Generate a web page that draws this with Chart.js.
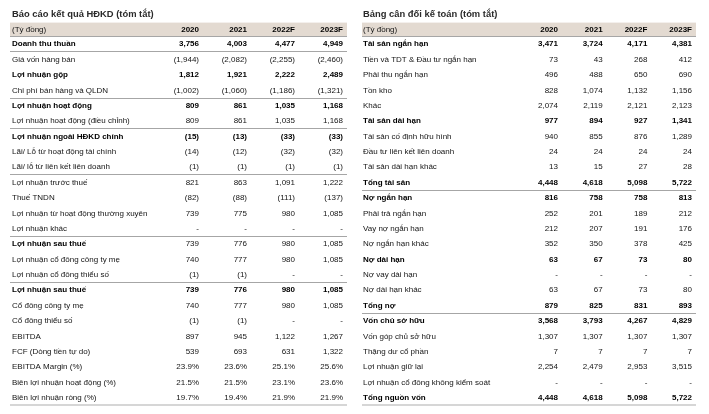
<!DOCTYPE html>
<html><head><meta charset="utf-8">
<script src="https://cdn.jsdelivr.net/npm/chart.js@4.4.0/dist/chart.umd.min.js"></script>
<style>
html,body{margin:0;padding:0;background:#fff;width:709px;height:414px;overflow:hidden}
#w1{position:absolute;left:0;top:0;width:354px;height:414px}
#w2{position:absolute;left:354px;top:0;width:355px;height:414px}
</style></head><body>
<div id="w1"><canvas id="c1"></canvas></div>
<div id="w2"><canvas id="c2"></canvas></div>
<script>
// ---------- DATA ----------
const years = ['2020', '2021', '2022F', '2023F'];
const unitLabel = '(Tỷ đồng)';

const incomeTitle = 'Báo cáo kết quả HĐKD (tóm tắt)';
const incomeRows = [
  'Doanh thu thuần', 'Giá vốn hàng bán', 'Lợi nhuận gộp', 'Chi phí bán hàng và QLDN',
  'Lợi nhuận hoạt động', 'Lợi nhuận hoạt động (điều chỉnh)', 'Lợi nhuận ngoài HĐKD chính',
  'Lãi/ Lỗ từ hoạt động tài chính', 'Lãi/ lỗ từ liên kết liên doanh', 'Lợi nhuận trước thuế',
  'Thuế TNDN', 'Lợi nhuận từ hoạt động thường xuyên', 'Lợi nhuận khác', 'Lợi nhuận sau thuế',
  'Lợi nhuận cổ đông công ty mẹ', 'Lợi nhuận cổ đông thiểu số', 'Lợi nhuận sau thuế',
  'Cổ đông công ty mẹ', 'Cổ đông thiểu số', 'EBITDA', 'FCF (Dòng tiền tự do)',
  'EBITDA Margin (%)', 'Biên lợi nhuận hoạt động (%)', 'Biên lợi nhuận ròng (%)'
];
const income2020  = [3756, -1944, 1812, -1002, 809, 809, -15, -14, -1, 821, -82, 739, null, 739, 740, -1, 739, 740, -1, 897, 539, 23.9, 21.5, 19.7];
const income2021  = [4003, -2082, 1921, -1060, 861, 861, -13, -12, -1, 863, -88, 775, null, 776, 777, -1, 776, 777, -1, 945, 693, 23.6, 21.5, 19.4];
const income2022F = [4477, -2255, 2222, -1186, 1035, 1035, -33, -32, -1, 1091, -111, 980, null, 980, 980, null, 980, 980, null, 1122, 631, 25.1, 23.1, 21.9];
const income2023F = [4949, -2460, 2489, -1321, 1168, 1168, -33, -32, -1, 1222, -137, 1085, null, 1085, 1085, null, 1085, 1085, null, 1267, 1322, 25.6, 23.6, 21.9];
const incomeBoldLabels = [0, 2, 4, 6, 13, 16];
const incomeBoldValues = [0, 2, 4, 6, 16];
const incomePercentRows = [21, 22, 23];
const incomeRuleRows = [0, 1, 4, 6, 9, 13, 16];

const balanceTitle = 'Bảng cân đối kế toán (tóm tắt)';
const balanceRows = [
  'Tài sản ngắn hạn', 'Tiền và TDT & Đầu tư ngắn hạn', 'Phải thu ngắn hạn', 'Tồn kho', 'Khác',
  'Tài sản dài hạn', 'Tài sản cố định hữu hình', 'Đầu tư liên kết liên doanh', 'Tài sản dài hạn khác',
  'Tổng tài sản', 'Nợ ngắn hạn', 'Phải trả ngắn hạn', 'Vay nợ ngắn hạn', 'Nợ ngắn hạn khác',
  'Nợ dài hạn', 'Nợ vay dài hạn', 'Nợ dài hạn khác', 'Tổng nợ', 'Vốn chủ sở hữu',
  'Vốn góp chủ sở hữu', 'Thặng dư cổ phần', 'Lợi nhuận giữ lại',
  'Lợi nhuận cổ đông không kiểm soát', 'Tổng nguồn vốn'
];
const balance2020  = [3471, 73, 496, 828, 2074, 977, 940, 24, 13, 4448, 816, 252, 212, 352, 63, null, 63, 879, 3568, 1307, 7, 2254, null, 4448];
const balance2021  = [3724, 43, 488, 1074, 2119, 894, 855, 24, 15, 4618, 758, 201, 207, 350, 67, null, 67, 825, 3793, 1307, 7, 2479, null, 4618];
const balance2022F = [4171, 268, 650, 1132, 2121, 927, 876, 24, 27, 5098, 758, 189, 191, 378, 73, null, 73, 831, 4267, 1307, 7, 2953, null, 5098];
const balance2023F = [4381, 412, 690, 1156, 2123, 1341, 1289, 24, 28, 5722, 813, 212, 176, 425, 80, null, 80, 893, 4829, 1307, 7, 3515, null, 5722];
const balanceBoldLabels = [0, 5, 9, 10, 14, 17, 18, 23];
const balanceBoldValues = [0, 5, 9, 10, 14, 17, 18, 23];
const balancePercentRows = [];
const balanceRuleRows = [0, 10, 18];

// ---------- STYLE ----------
const FONT = "'Liberation Sans', Arial, sans-serif";
const BODY = 8;
const BAND = '#e3dad1';
const TEXT = '#141414';

function fmt(v, pct) {
  if (v === null || v === undefined) return '-';
  if (pct) return v.toFixed(1) + '%';
  const s = Math.abs(v).toLocaleString('en-US');
  return v < 0 ? '(' + s + ')' : s;
}

function makeTable(canvasId, spec) {
  const datasets = spec.columns.map((vals, j) => ({
    label: years[j],
    data: spec.rows.map((r) => ({ x: years[j], y: r })),
    values: vals,
    showLine: false, pointRadius: 0, pointHoverRadius: 0, borderWidth: 0
  }));
  const cellPlugin = {
    id: 'cells',
    beforeDraw(chart) {
      const { ctx, chartArea } = chart;
      const xs = chart.scales.x;
      const left = chartArea.left - spec.tick;
      ctx.save();
      ctx.fillStyle = BAND;
      ctx.fillRect(left, xs.top, chartArea.right - left, xs.bottom - xs.top);
      ctx.restore();
    },
    afterDraw(chart) {
      const { ctx } = chart;
      const xs = chart.scales.x;
      const colW = (xs.right - xs.left) / years.length;
      const cy = (xs.top + xs.bottom) / 2;
      ctx.save();
      ctx.textBaseline = 'middle';
      ctx.textAlign = 'left';
      ctx.fillStyle = TEXT;
      ctx.font = 'normal ' + BODY + 'px ' + FONT;
      ctx.fillText(unitLabel, spec.padLeft, cy);
      ctx.textAlign = 'right';
      ctx.fillStyle = '#000';
      ctx.font = 'bold ' + BODY + 'px ' + FONT;
      years.forEach(yr => {
        ctx.fillText(yr, xs.getPixelForValue(yr) + colW / 2 - 4, cy);
      });
      chart.data.datasets.forEach((ds, j) => {
        const meta = chart.getDatasetMeta(j);
        meta.data.forEach((el, i) => {
          const bold = spec.boldValues.includes(i);
          ctx.font = (bold ? 'bold ' : 'normal ') + BODY + 'px ' + FONT;
          ctx.fillStyle = bold ? '#000' : TEXT;
          ctx.fillText(fmt(ds.values[i], spec.pct.includes(i)), el.x + colW / 2 - 4, el.y);
        });
      });
      ctx.restore();
    }
  };
  return new Chart(document.getElementById(canvasId), {
    type: 'line',
    data: { labels: years, datasets },
    plugins: [cellPlugin],
    options: {
      responsive: true, maintainAspectRatio: false, animation: false, events: [],
      layout: { padding: { left: spec.padLeft, right: spec.padRight, top: 0, bottom: 8.5 } },
      plugins: {
        legend: { display: false }, tooltip: { enabled: false },
        title: {
          display: true, text: spec.title, align: 'start', color: '#2a2a2a',
          font: { family: FONT, size: 9.4, weight: 'bold' },
          padding: { top: 8.36, bottom: 2.96 }
        }
      },
      scales: {
        x: {
          type: 'category', position: 'top', offset: true, labels: years,
          grid: { display: false }, border: { display: false },
          ticks: { display: false },
          afterFit: s => { s.height = 14; }
        },
        y: {
          type: 'category', position: 'left', offset: true, labels: spec.rows,
          border: { display: false },
          afterFit: s => { s.width = spec.labelW; },
          grid: {
            offset: true, tickLength: spec.tick,
            color: ctx => ctx.index === undefined ? '#d6d6d6' : (spec.rules.includes(ctx.index) ? '#a6a6a6' : 'rgba(0,0,0,0)'),
            lineWidth: ctx => ctx.index === undefined ? 2 : 1
          },
          ticks: {
            crossAlign: 'far', autoSkip: false, padding: 0,
            color: ctx => spec.boldLabels.includes(ctx.index) ? '#000' : TEXT,
            font: ctx => ({ family: FONT, size: BODY, weight: spec.boldLabels.includes(ctx.index) ? 'bold' : 'normal' })
          }
        }
      }
    }
  });
}

makeTable('c1', {
  title: incomeTitle, rows: incomeRows,
  columns: [income2020, income2021, income2022F, income2023F],
  boldLabels: incomeBoldLabels, boldValues: incomeBoldValues, pct: incomePercentRows, rules: incomeRuleRows,
  padLeft: 12, padRight: 7, labelW: 143, tick: 145
});
makeTable('c2', {
  title: balanceTitle, rows: balanceRows,
  columns: [balance2020, balance2021, balance2022F, balance2023F],
  boldLabels: balanceBoldLabels, boldValues: balanceBoldValues, pct: balancePercentRows, rules: balanceRuleRows,
  padLeft: 9, padRight: 13, labelW: 154.3, tick: 155.3
});
</script>
</body></html>
